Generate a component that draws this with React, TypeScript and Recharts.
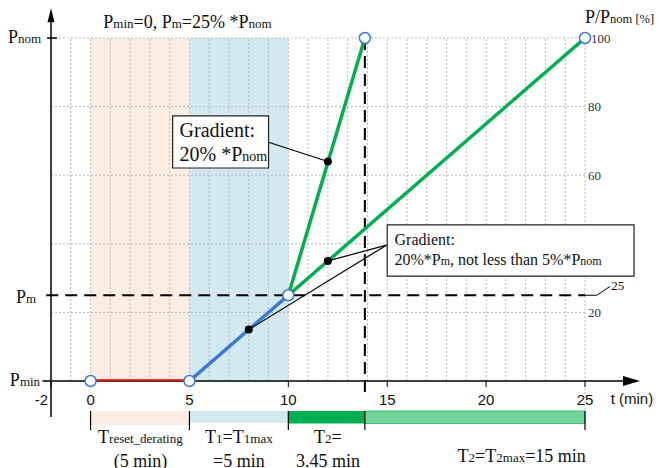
import React from "react";
import {
  ComposedChart,
  Line,
  XAxis,
  YAxis,
  ReferenceArea,
  ReferenceLine,
  ReferenceDot,
} from "recharts";

const SERIF = "'Liberation Serif', 'Times New Roman', serif";
const SANS = "'Liberation Sans', Arial, sans-serif";

const ORANGE_BAND = "#FCEDE2";
const BLUE_BAND = "#D2E9EF";
const RED = "#FF0000";
const BLUE = "#3A78D2";
const GREEN = "#00B050";
const GREEN_LIGHT = "#72D49C";
const GRID = "#b8b8b8";

// axis ticks
const timeTicks = [-2, 0, 5, 10, 15, 20, 25];
const pctTicks = [20, 60, 80, 100]; // 40 sits behind the second note box
const gridX = [-1, 0, 1, 2, 3, 4, 5, 6, 7, 8, 9, 10, 11, 12, 13, 14, 15, 16, 17, 18, 19, 20, 21, 22, 23, 24, 25];
const gridY = [20, 40, 60, 80, 100];

// power levels, % of Pnom
const P_MIN = 0;
const P_M = 25;
const P_NOM = 100;

// phase boundaries, min
const T_RESET = [0, 5];
const T_1 = [5, 10];
const T_2 = [10, 13.87];
const T_2MAX = [13.87, 25];
const phaseEdges = [0, 5, 10, 13.87, 25];

// ramps
const resetRamp = [{ x: 0, y: 0 }, { x: 5, y: 0 }];
const t1Ramp = [{ x: 5, y: 0 }, { x: 10, y: 25 }];
const fastRamp = [{ x: 10, y: 25 }, { x: 13.87, y: 100 }];
const slowRamp = [{ x: 10, y: 25 }, { x: 25, y: 100 }];
const openPoints = [
  { x: 0, y: 0 },
  { x: 5, y: 0 },
  { x: 10, y: 25 },
  { x: 13.87, y: 100 },
  { x: 25, y: 100 },
];
const gradientPoints = [
  { x: 8, y: 15 },
  { x: 12, y: 64 },
  { x: 12, y: 35 },
];

type Run = [string, boolean]; // text, subscript?

const titleText: Run[] = [["P", false], ["min", true], ["=0, P", false], ["m", true], ["=25% *P", false], ["nom", true]];
const pctTitle: Run[] = [["P/P", false], ["nom [%]", true]];
const note1a: Run[] = [["Gradient:", false]];
const note1b: Run[] = [["20% *P", false], ["nom", true]];
const note2a: Run[] = [["Gradient:", false]];
const note2b: Run[] = [["20%*P", false], ["m", true], [", not less than 5%*P", false], ["nom", true]];
const pNomLabel: Run[] = [["P", false], ["nom", true]];
const pMLabel: Run[] = [["P", false], ["m", true]];
const pMinLabel: Run[] = [["P", false], ["min", true]];
const resetLabel: Run[] = [["T", false], ["reset_derating", true]];
const t1Label: Run[] = [["T", false], ["1", true], ["=T", false], ["1max", true]];
const t2Label: Run[] = [["T", false], ["2", true], ["=", false]];
const t2MaxLabel: Run[] = [["T", false], ["2", true], ["=T", false], ["2max", true], ["=15 min", false]];

type Note = {
  x: number;
  y: number;
  runs: Run[];
  size: number;
  sub: number;
  anchor?: "start" | "middle" | "end";
  font?: string;
};

// text placement in data units
const notes: Note[] = [
  { x: 4.9, y: 102.9, runs: titleText, size: 18, sub: 13, anchor: "middle" },
  { x: 25, y: 104.3, runs: pctTitle, size: 18, sub: 12.5 },
  { x: -2.5, y: 98.6, runs: pNomLabel, size: 18, sub: 13, anchor: "end" },
  { x: -2.75, y: 22.8, runs: pMLabel, size: 18, sub: 13, anchor: "end" },
  { x: -2.55, y: -1.5, runs: pMinLabel, size: 18, sub: 13, anchor: "end" },
  { x: 4.5, y: 71.1, runs: note1a, size: 20, sub: 14 },
  { x: 4.5, y: 64.1, runs: note1b, size: 20, sub: 14 },
  { x: 15.37, y: 39.6, runs: note2a, size: 16, sub: 12 },
  { x: 15.37, y: 33.8, runs: note2b, size: 16, sub: 12 },
  { x: 26.33, y: 26.5, runs: [["25", false]], size: 13, sub: 13 },
  { x: 26.3, y: -6.7, runs: [["t (min)", false]], size: 15, sub: 15, font: SANS },
  { x: 2.52, y: -18.2, runs: resetLabel, size: 18, sub: 13, anchor: "middle" },
  { x: 2.52, y: -25.1, runs: [["(5 min)", false]], size: 18, sub: 13, anchor: "middle" },
  { x: 7.5, y: -18.2, runs: t1Label, size: 18, sub: 13, anchor: "middle" },
  { x: 7.5, y: -25.1, runs: [["=5 min", false]], size: 18, sub: 13, anchor: "middle" },
  { x: 12, y: -18.2, runs: t2Label, size: 18, sub: 13, anchor: "middle" },
  { x: 12, y: -25.1, runs: [["3.45 min", false]], size: 18, sub: 13, anchor: "middle" },
  { x: 21.8, y: -23.5, runs: t2MaxLabel, size: 18, sub: 13, anchor: "middle" },
];

const noteBoxes = [
  { x1: 4.15, x2: 9.0, y1: 62.1, y2: 77.3 },
  { x1: 15.0, x2: 27.48, y1: 30.6, y2: 45.5 },
];

const leaders = [
  [{ x: 9.0, y: 69.6 }, { x: 12, y: 64 }],
  [{ x: 14.96, y: 39.6 }, { x: 12, y: 35 }],
  [{ x: 14.96, y: 39.6 }, { x: 8, y: 15 }],
];

function renderText(n: Note) {
  return (p: any) => (
    <text
      x={p.cx}
      y={p.cy}
      textAnchor={n.anchor ?? "start"}
      fontFamily={n.font ?? SERIF}
      fontSize={n.size}
      fill="#111"
    >
      {n.runs.map(([t, s], i) => (
        <tspan key={i} fontSize={s ? n.sub : n.size}>
          {t}
        </tspan>
      ))}
    </text>
  );
}

const upArrow = (p: any) => (
  <polygon
    points={`${p.cx},${p.cy} ${p.cx - 3.5},${p.cy + 14} ${p.cx + 3.5},${p.cy + 14}`}
    fill="#000"
  />
);

const rightArrow = (p: any) => (
  <polygon
    points={`${p.cx},${p.cy} ${p.cx - 17},${p.cy - 5} ${p.cx - 17},${p.cy + 5}`}
    fill="#000"
  />
);

function TimeTick({ x, y, payload }: any) {
  const left = payload.value === -2;
  return (
    <text
      x={left ? x - 3 : x}
      y={y}
      dy={16}
      textAnchor={left ? "end" : "middle"}
      fontFamily={SANS}
      fontSize={15}
      fill="#111"
    >
      {payload.value}
    </text>
  );
}

function PctTick({ x, y, payload }: any) {
  return (
    <text x={payload.value === 100 ? x + 3 : x} y={y} dy={4.5} textAnchor="start" fontFamily={SERIF} fontSize={13} fill="#333">
      {payload.value}
    </text>
  );
}

export default function App() {
  return (
    <div style={{ position: "absolute", left: 0, top: 0, background: "#fff" }}>
      <ComposedChart
        width={659}
        height={468}
        margin={{ top: 38, right: 0, bottom: 0, left: 51 }}
      >
        <XAxis
          type="number"
          dataKey="x"
          domain={[-2, 25]}
          ticks={timeTicks}
          height={87}
          axisLine={false}
          tickLine={{ stroke: "#000" }}
          tickSize={6}
          tickMargin={2}
          tick={<TimeTick />}
          allowDataOverflow
        />
        <YAxis
          type="number"
          orientation="right"
          domain={[0, 100]}
          ticks={pctTicks}
          width={74}
          axisLine={false}
          tickLine={false}
          tickSize={0}
          tickMargin={3}
          tick={<PctTick />}
          allowDataOverflow
        />

        {/* phase bands */}
        <ReferenceArea x1={T_RESET[0]} x2={T_RESET[1]} y1={P_MIN} y2={P_NOM} fill={ORANGE_BAND} fillOpacity={1} stroke="none" zIndex={10} />
        <ReferenceArea x1={T_1[0]} x2={T_1[1]} y1={P_MIN} y2={P_NOM} fill={BLUE_BAND} fillOpacity={1} stroke="none" zIndex={10} />

        {/* dotted grid */}
        {gridX.map((gx) => (
          <ReferenceLine
            key={`gx${gx}`}
            segment={[{ x: gx, y: gx === 25 ? -8.5 : P_MIN }, { x: gx, y: P_NOM }]}
            stroke={GRID}
            strokeDasharray="2 2"
            ifOverflow="visible"
            zIndex={20}
          />
        ))}
        {gridY.map((gy) => (
          <ReferenceLine
            key={`gy${gy}`}
            segment={[{ x: -2, y: gy }, { x: 25, y: gy }]}
            stroke={GRID}
            strokeDasharray="2 2"
            ifOverflow="visible"
            zIndex={20}
          />
        ))}

        {/* phase bars under the time axis */}
        <ReferenceArea x1={T_RESET[0]} x2={T_RESET[1]} y1={-12.8} y2={-8.75} fill={ORANGE_BAND} fillOpacity={1} stroke="none" ifOverflow="visible" zIndex={10} />
        <ReferenceArea x1={T_1[0]} x2={T_1[1]} y1={-12.2} y2={-8.75} fill={BLUE_BAND} fillOpacity={1} stroke="none" ifOverflow="visible" zIndex={10} />
        <ReferenceArea x1={T_2[0]} x2={T_2[1]} y1={-12.4} y2={-8.75} fill={GREEN} fillOpacity={1} stroke="none" ifOverflow="visible" zIndex={10} />
        <ReferenceArea x1={T_2MAX[0]} x2={T_2MAX[1]} y1={-12.4} y2={-8.75} fill={GREEN_LIGHT} fillOpacity={1} stroke="#3FBF6E" strokeWidth={1} ifOverflow="visible" zIndex={10} />
        {phaseEdges.map((e) => (
          <ReferenceLine
            key={`pe${e}`}
            segment={[{ x: e, y: -8.75 }, { x: e, y: -14.3 }]}
            stroke="#000"
            strokeWidth={1.2}
            ifOverflow="visible"
            zIndex={40}
          />
        ))}

        {/* Pm and T2 end markers */}
        <ReferenceLine
          segment={[{ x: -2.24, y: P_M }, { x: 25, y: P_M }]}
          stroke="#000"
          strokeWidth={2}
          strokeDasharray="12 7"
          ifOverflow="visible"
          zIndex={30}
        />
        <ReferenceLine
          segment={[{ x: 13.87, y: P_NOM }, { x: 13.87, y: -4 }]}
          stroke="#000"
          strokeWidth={2}
          strokeDasharray="12 6"
          ifOverflow="visible"
          zIndex={30}
        />
        <ReferenceLine
          segment={[{ x: 25, y: P_M }, { x: 25.6, y: P_M }]}
          stroke="#000"
          strokeWidth={1}
          ifOverflow="visible"
          zIndex={30}
        />
        <ReferenceLine
          segment={[{ x: 25.6, y: P_M }, { x: 26.27, y: 27.6 }]}
          stroke="#000"
          strokeWidth={1}
          ifOverflow="visible"
          zIndex={30}
        />

        {/* axes */}
        <ReferenceLine
          segment={[{ x: -2, y: -10.5 }, { x: -2, y: 105 }]}
          stroke="#000"
          strokeWidth={1.5}
          ifOverflow="visible"
          zIndex={40}
        />
        <ReferenceLine
          segment={[{ x: -2.43, y: P_MIN }, { x: 27, y: P_MIN }]}
          stroke="#000"
          strokeWidth={1.5}
          ifOverflow="visible"
          zIndex={40}
        />
        <ReferenceLine
          segment={[{ x: -2.2, y: P_NOM }, { x: -1.7, y: P_NOM }]}
          stroke="#000"
          strokeWidth={1.5}
          ifOverflow="visible"
          zIndex={40}
        />
        <ReferenceDot x={-2} y={108.7} r={1} shape={upArrow} ifOverflow="visible" zIndex={40} />
        <ReferenceDot x={27.78} y={P_MIN} r={1} shape={rightArrow} ifOverflow="visible" zIndex={40} />

        {/* ramps */}
        <Line data={resetRamp} dataKey="y" type="linear" stroke={RED} strokeWidth={3.5} dot={false} activeDot={false} isAnimationActive={false} zIndex={400} />
        <Line data={t1Ramp} dataKey="y" type="linear" stroke={BLUE} strokeWidth={3.5} dot={false} activeDot={false} isAnimationActive={false} zIndex={400} />
        <Line data={fastRamp} dataKey="y" type="linear" stroke={GREEN} strokeWidth={3.5} dot={false} activeDot={false} isAnimationActive={false} zIndex={400} />
        <Line data={slowRamp} dataKey="y" type="linear" stroke={GREEN} strokeWidth={3.5} dot={false} activeDot={false} isAnimationActive={false} zIndex={400} />

        {/* note leaders and boxes */}
        {leaders.map((seg, i) => (
          <ReferenceLine key={`ld${i}`} segment={seg} stroke="#000" strokeWidth={1.2} ifOverflow="visible" zIndex={450} />
        ))}
        {noteBoxes.map((b, i) => (
          <ReferenceArea
            key={`nb${i}`}
            x1={b.x1}
            x2={b.x2}
            y1={b.y1}
            y2={b.y2}
            fill="#fff"
            fillOpacity={1}
            stroke="#222"
            strokeWidth={1.2}
            ifOverflow="visible"
            zIndex={460}
          />
        ))}

        {/* points */}
        {gradientPoints.map((p, i) => (
          <ReferenceDot key={`gp${i}`} x={p.x} y={p.y} r={4} fill="#000" stroke="none" ifOverflow="visible" zIndex={600} />
        ))}
        {openPoints.map((p, i) => (
          <ReferenceDot key={`op${i}`} x={p.x} y={p.y} r={5.5} fill="#fff" stroke={BLUE} strokeWidth={1.5} ifOverflow="visible" zIndex={600} />
        ))}

        {/* text */}
        {notes.map((n, i) => (
          <ReferenceDot key={`tx${i}`} x={n.x} y={n.y} r={1} shape={renderText(n)} ifOverflow="visible" zIndex={700} />
        ))}
      </ComposedChart>
    </div>
  );
}
